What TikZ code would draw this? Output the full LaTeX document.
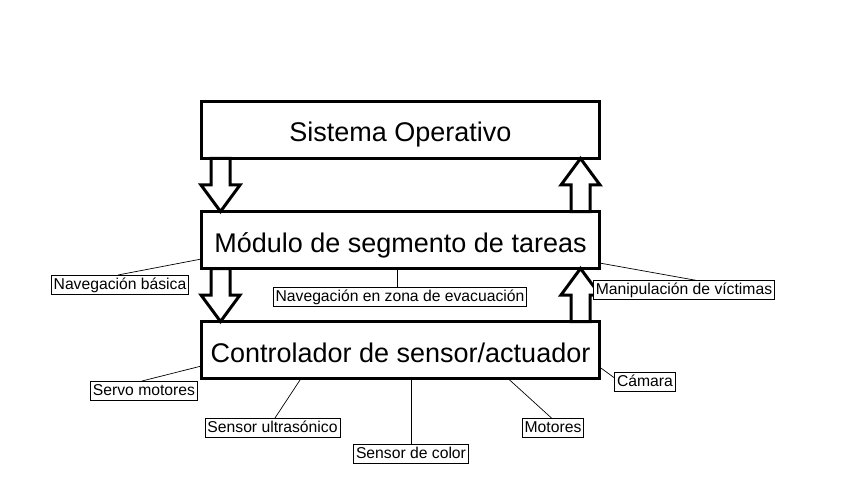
\documentclass[tikz,border=0pt]{standalone}
\usepackage{fontspec}
\setmainfont{Liberation Sans}
\usetikzlibrary{calc}
\newcommand\blockarr[2]{%
  \draw[blockarrow] let \p1=(#1), \p2=(#2) in
    ({\x1-9.5pt},\y1) -- ({\x1-9.5pt},{0.5*(\y1+\y2)}) -- ({\x1-19.5pt},{0.5*(\y1+\y2)})
    -- (\x2,\y2) -- ({\x1+19.5pt},{0.5*(\y1+\y2)}) -- ({\x1+9.5pt},{0.5*(\y1+\y2)})
    -- ({\x1+9.5pt},\y1) -- cycle;}
\begin{document}
\begin{tikzpicture}[x=1pt,y=-1pt,
  mainbox/.style={draw,line width=3pt,fill=white,minimum width=398pt,minimum height=57pt,
    inner sep=0pt,outer sep=0pt,text height=25pt,text depth=1pt,font=\fontsize{27}{32}\selectfont},
  lbl/.style={draw,line width=0.8pt,fill=white,inner xsep=2.5pt,inner ysep=2pt,outer sep=0pt,
    text height=12pt,text depth=3pt,font=\fontsize{15.7}{18}\selectfont},
  leader/.style={line width=0.7pt},
  blockarrow/.style={draw,line width=3pt,fill=white,line join=miter}]
\useasboundingbox (0,0) rectangle (841,500);

\node[mainbox] (so)  at (400.5,130) {Sistema Operativo};
\node[mainbox] (mst) at (400.5,240) {Módulo de segmento de tareas};
\node[mainbox] (ctl) at (400.5,350) {Controlador de sensor/actuador};

\blockarr{[xshift=19pt]so.south west}{[xshift=19pt]mst.north west}
\blockarr{[xshift=-19pt]mst.north east}{[xshift=-19pt]so.south east}
\blockarr{[xshift=19pt]mst.south west}{[xshift=19pt]ctl.north west}
\blockarr{[xshift=-19pt]ctl.north east}{[xshift=-19pt]mst.south east}

\node[lbl] (navb)  at (120,284.5) {Navegación básica};
\node[lbl] (nave)  at (400,297)   {Navegación en zona de evacuación};
\node[lbl] (manip) at (684,290)   {Manipulación de víctimas};
\node[lbl] (servo) at (144,390.5) {Servo motores};
\node[lbl] (ultra) at (272.5,427.5) {Sensor ultrasónico};
\node[lbl] (color) at (411,454)   {Sensor de color};
\node[lbl] (mot)   at (553,428)   {Motores};
\node[lbl] (cam)   at (645,382)   {Cámara};

\draw[leader] ([xshift=-2pt]navb.north) -- ([yshift=-19pt]mst.west);
\draw[leader] ([xshift=-3pt]nave.north) -- ([xshift=-3pt]nave.north |- mst.south);
\draw[leader] ([xshift=13pt]manip.north) -- ([yshift=-23pt]mst.east);
\draw[leader] ([xshift=-2pt]servo.north) -- ([yshift=-16pt]ctl.west);
\draw[leader] ([xshift=2.5pt]ultra.north) -- ([xshift=-99.5pt]ctl.south);
\draw[leader] (color.north) -- (color.north |- ctl.south);
\draw[leader] ([xshift=-1pt]mot.north) -- ([xshift=107.5pt]ctl.south);
\draw[leader] ([yshift=4pt]cam.west) -- ([yshift=-17pt]ctl.east);
\end{tikzpicture}
\end{document}
